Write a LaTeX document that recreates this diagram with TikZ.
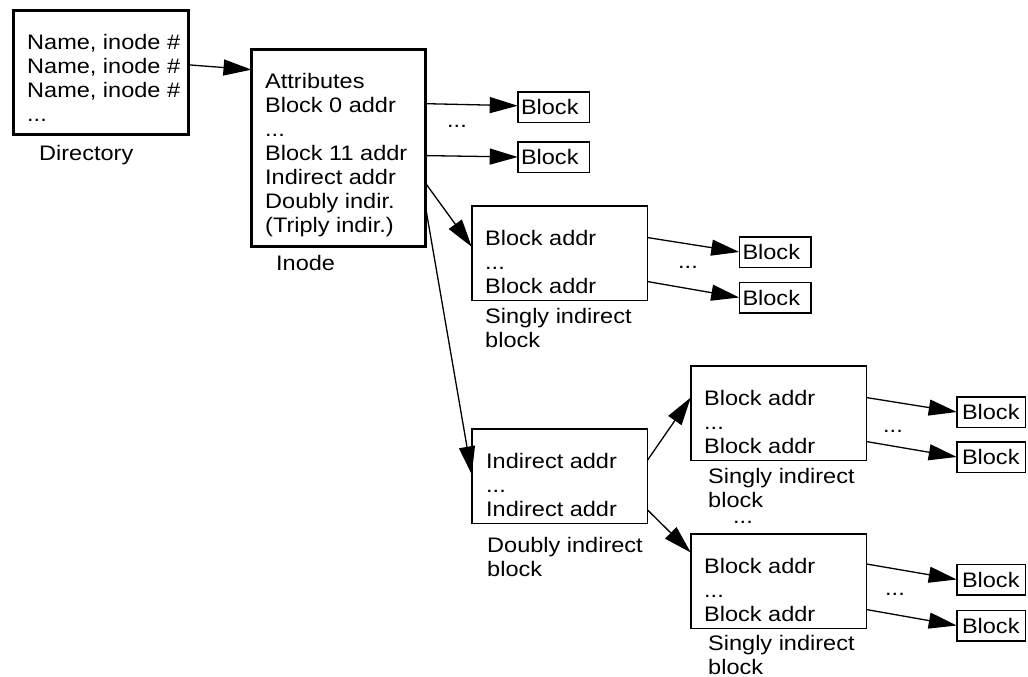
\documentclass[tikz,border=0pt]{standalone}
\usepackage{fontspec}
\setmainfont{Liberation Sans}[FakeStretch=1.12]
\usetikzlibrary{arrows.meta}

\begin{document}
\begin{tikzpicture}[x=1pt, y=-1pt,
  every node/.style={font=\fontsize{21}{24}\selectfont},
  bigbox/.style={draw, line width=3pt, inner sep=0pt, outer sep=0pt},
  ibox/.style={draw, line width=1.5pt, inner sep=0pt, outer sep=0pt, minimum width=175.5pt, minimum height=94.5pt},
  blk/.style={draw, line width=1.5pt, outer sep=0pt, inner ysep=0pt, inner xsep=3.25pt, minimum height=30.5pt, text width=65pt, align=left},
  rblk/.style={blk, inner xsep=5.25pt, text width=58pt},
  txt/.style={anchor=north west, inner sep=0pt, align=left},
  dots/.style={anchor=base, inner sep=0pt},
  ptr/.style={-{Triangle[length=28pt, width=16pt]}, line width=1.3pt, draw=black}]
\useasboundingbox (0,0) rectangle (1028,677);

% directory and inode
\node[bigbox, minimum width=175pt, minimum height=124pt] (dir) at (101,72.5) {};
\node[txt] (dirtxt) at (27,32.2) {\strut Name, inode \#\\Name, inode \#\\Name, inode \#\\...};
\node[txt] (dirlab) at (39,143.2) {\strut Directory};
\node[bigbox, minimum width=174pt, minimum height=197pt] (inode) at (338.5,148) {};
\node[txt] (inodetxt) at (265,71) {\strut Attributes\\Block 0 addr\\...\\Block 11 addr\\Indirect addr\\Doubly indir.\\(Triply indir.)};
\node[txt] (inodelab) at (276,253.2) {\strut Inode};

% direct blocks
\node[blk] (b0) at (553.5,107) {Block};
\node[blk] (b11) at (553.5,157) {Block};
\node[dots] (d0) at (457,127) {...};

% singly indirect
\node[ibox] (sing) at (559.5,253) {};
\node[txt] (singtxt) at (485,228.2) {\strut Block addr\\...\\Block addr};
\node[txt] (singlab) at (485,306.2) {\strut Singly indirect\\block};
\node[blk] (s1) at (775,252) {Block};
\node[blk] (s2) at (775,297.5) {Block};
\node[dots] (d1) at (688,268) {...};

% doubly indirect
\node[ibox] (dbl) at (559.5,476) {};
\node[txt] (dbltxt) at (486,451.2) {\strut Indirect addr\\...\\Indirect addr};
\node[txt] (dbllab) at (487,535.2) {\strut Doubly indirect\\block};

\node[ibox] (sa) at (778.5,413) {};
\node[txt] (satxt) at (704,388.2) {\strut Block addr\\...\\Block addr};
\node[txt] (salab) at (708,466.2) {\strut Singly indirect\\block};
\node[dots] (d2) at (743,523) {...};
\node[rblk] (sa1) at (991,412) {Block};
\node[rblk] (sa2) at (991,457) {Block};
\node[dots] (d3) at (893,432) {...};

\node[ibox] (sb) at (778.5,581) {};
\node[txt] (sbtxt) at (704,556.2) {\strut Block addr\\...\\Block addr};
\node[txt] (sblab) at (708,633.2) {\strut Singly indirect\\block};
\node[rblk] (sb1) at (991,579.5) {Block};
\node[rblk] (sb2) at (991,625.5) {Block};
\node[dots] (d4) at (895,595) {...};

% pointers
\path (dir.5) edge[ptr] (inode.138);
\path (inode.27) edge[ptr] (b0.178);
\path (inode.-5) edge[ptr] (b11.west);
\path (inode.-22) edge[ptr] (sing.176);
\path (inode.-34) edge[ptr] (dbl.179);
\path (sing.10) edge[ptr] (s1.west);
\path (sing.-18) edge[ptr] (s2.west);
\path (dbl.10) edge[ptr] (sa.170);
\path (dbl.-21) edge[ptr] (sb.162);
\path (sa.10) edge[ptr] (sa1.west);
\path (sa.-18) edge[ptr] (sa2.west);
\path (sb.11) edge[ptr] (sb1.west);
\path (sb.-18) edge[ptr] (sb2.west);
\end{tikzpicture}
\end{document}
